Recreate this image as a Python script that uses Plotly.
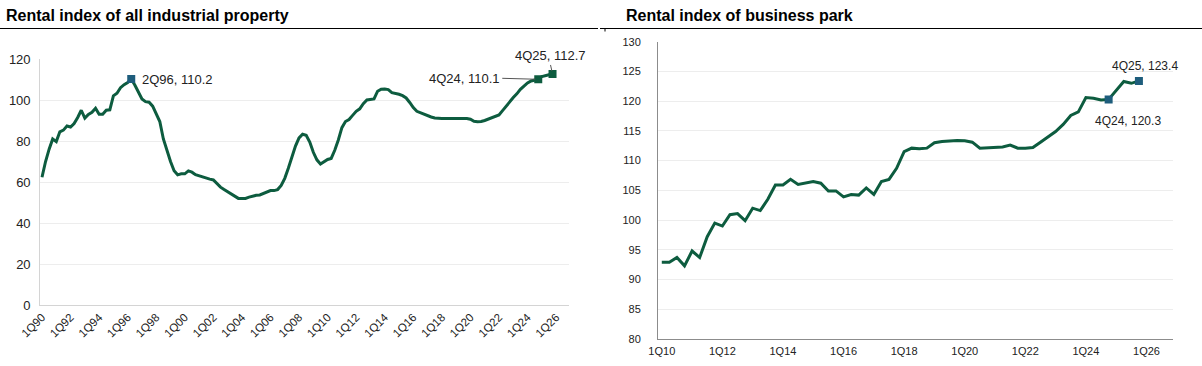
import plotly.graph_objects as go

# ---------------- data ----------------
ind_start_year = 1990
industrial = [
    62.3, 70, 76, 81, 79.7, 84.5, 85.3, 87.3, 86.8, 88.5, 91.5, 95, 91.2, 93, 94, 96,
    93, 93, 95, 95.2, 102, 103.3, 106, 107.5, 108.5, 110.2, 107.3, 104, 100.5, 99.2, 98.9, 97,
    93, 89.5, 81, 75, 70, 65.5, 63.5, 64, 64, 65.4, 64.8, 63.6, 63, 62.6, 62, 61.4,
    61, 59, 57.5, 56.3, 55.2, 54, 53, 52, 52, 52, 52.6, 53.2, 53.5, 53.7, 54.5, 55.4,
    55.8, 55.8, 56.3, 58.3, 61.8, 66.7, 72.6, 77.5, 81.5, 83.3, 82.8, 79.5, 74.5, 70.8, 68.8, 70,
    71, 71.5, 75.5, 80.5, 86.5, 89.5, 90.5, 92.5, 94.5, 95.7, 98.2, 100, 100.3, 100.5, 104.3, 105.3,
    105.4, 105.1, 103.6, 103.3, 102.8, 102.1, 101, 98.8, 96.3, 94.5, 93.8, 92.9, 92.3, 91.7, 91.2, 91,
    91, 91, 91, 91, 91, 91, 91, 91, 90.6, 89.6, 89.4, 89.5, 90, 90.6, 91.2, 92,
    92.7, 94.8, 97, 99.5, 101.2, 103, 105.2, 106.8, 108.3, 109.3, 109.8, 110.1, 111.4, 112, 112.3, 112.7,
]

bp_start_year = 2010
business_park = [
    92.9, 92.9, 93.7, 92.3, 94.8, 93.7, 97.2, 99.5, 99, 100.9, 101.1, 99.9, 102, 101.6, 103.5, 105.9,
    105.9, 106.85, 106, 106.2, 106.5, 106.2, 104.9, 104.9, 103.9, 104.3, 104.2, 105.4, 104.3, 106.5, 106.85, 108.7,
    111.5, 112.1, 112, 112.1, 113, 113.2, 113.3, 113.4, 113.35, 113.1, 112.1, 112.2, 112.25, 112.3, 112.6, 112.1,
    112.1, 112.2, 113.1, 114, 114.9, 116.1, 117.6, 118.2, 120.6, 120.5, 120.2, 120.3, 121.9, 123.3, 123, 123.4,
]

ind_end_year = 2026   # axis runs through 4Q26
bp_end_year = 2026

ind_highlights = ["2Q96", "4Q24", "4Q25"]
bp_highlights = ["4Q24", "4Q25"]

titles = ["Rental index of all industrial property", "Rental index of business park"]


def quarter_labels(start, end):
    return [f"{q}Q{str(y)[2:]}" for y in range(start, end + 1) for q in range(1, 5)]


ind_cats = quarter_labels(ind_start_year, ind_end_year)
bp_cats = quarter_labels(bp_start_year, bp_end_year)

ind_x = list(range(len(industrial)))
bp_x = list(range(len(business_park)))

ind_ticks = [i for i, c in enumerate(ind_cats) if c.startswith("1Q") and int(c[2:]) % 2 == 0]
bp_ticks = [i for i, c in enumerate(bp_cats) if c.startswith("1Q") and int(c[2:]) % 2 == 0]

# ---------------- styling ----------------
W, H = 1202, 366
LINE = "#0d5c3f"
BLUE = "#1e5d7c"
FONT = "Liberation Sans, Arial, sans-serif"


def px_x(a, b):
    return [a / W, b / W]


def px_y(top, bottom):
    return [1 - bottom / H, 1 - top / H]


fig = go.Figure()

fig.add_trace(go.Scatter(x=ind_x, y=industrial, mode="lines", line=dict(color=LINE, width=3),
                         xaxis="x", yaxis="y", hoverinfo="skip", showlegend=False))
fig.add_trace(go.Scatter(x=bp_x, y=business_park, mode="lines", line=dict(color=LINE, width=3),
                         xaxis="x2", yaxis="y2", hoverinfo="skip", showlegend=False))

# highlight markers
ind_hi_idx = [ind_cats.index(c) for c in ind_highlights]
ind_hi_col = [BLUE, LINE, LINE]
fig.add_trace(go.Scatter(x=ind_hi_idx, y=[industrial[i] for i in ind_hi_idx], mode="markers",
                         marker=dict(symbol="square", size=8, color=ind_hi_col),
                         xaxis="x", yaxis="y", hoverinfo="skip", showlegend=False))
bp_hi_idx = [bp_cats.index(c) for c in bp_highlights]
fig.add_trace(go.Scatter(x=bp_hi_idx, y=[business_park[i] for i in bp_hi_idx], mode="markers",
                         marker=dict(symbol="square", size=8, color=BLUE),
                         xaxis="x2", yaxis="y2", hoverinfo="skip", showlegend=False))

fig.update_layout(
    template="none",
    width=W, height=H,
    margin=dict(l=0, r=0, t=0, b=0, autoexpand=False),
    paper_bgcolor="white", plot_bgcolor="white",
    font=dict(family=FONT, color="#222"),
    xaxis=dict(domain=px_x(40.2, 568.6), range=[-0.5, len(ind_cats) - 0.5],
               tickvals=ind_ticks, ticktext=[ind_cats[i] for i in ind_ticks],
               tickangle=-45, tickfont=dict(family=FONT, size=11.5, color="#222"),
               showgrid=False, showline=True, linecolor="#d4d4d4", linewidth=1,
               ticks="", zeroline=False, automargin=False, anchor="y"),
    yaxis=dict(domain=px_y(59, 305), range=[0, 120], dtick=20,
               tickfont=dict(family=FONT, size=13, color="#222"),
               showgrid=True, gridcolor="#ededed", gridwidth=1,
               showline=True, linecolor="#d4d4d4", linewidth=1,
               ticks="", zeroline=False, ticklabelstandoff=6, automargin=False, anchor="x"),
    xaxis2=dict(domain=px_x(658, 1173), range=[-0.5, len(bp_cats) - 0.5],
                tickvals=bp_ticks, ticktext=[bp_cats[i] for i in bp_ticks],
                tickangle=0, tickfont=dict(family=FONT, size=11, color="#222"),
                showgrid=False, showline=True, linecolor="#8c8c8c", linewidth=1,
                ticks="", zeroline=False, automargin=False, anchor="y2", ticklabelstandoff=2),
    yaxis2=dict(domain=px_y(41.7, 339), range=[80, 130], dtick=5,
                tickfont=dict(family=FONT, size=11, color="#222"),
                showgrid=True, gridcolor="#ededed", gridwidth=1,
                showline=True, linecolor="#8c8c8c", linewidth=1,
                ticks="", zeroline=False, ticklabelstandoff=14, automargin=False, anchor="x2"),
)

# titles
fig.add_annotation(text=f"<b>{titles[0]}</b>", xref="paper", yref="paper",
                   x=4 / W, y=1 - 15 / H, xanchor="left", yanchor="middle", showarrow=False,
                   font=dict(family=FONT, size=16, color="#000"))
fig.add_annotation(text=f"<b>{titles[1]}</b>", xref="paper", yref="paper",
                   x=624 / W, y=1 - 15 / H, xanchor="left", yanchor="middle", showarrow=False,
                   font=dict(family=FONT, size=16, color="#000"))

# title rules
fig.add_shape(type="line", xref="paper", yref="paper", x0=0, x1=598 / W,
              y0=1 - 28.5 / H, y1=1 - 28.5 / H, line=dict(color="#000", width=1.2))
fig.add_shape(type="line", xref="paper", yref="paper", x0=600 / W, x1=1,
              y0=1 - 28.5 / H, y1=1 - 28.5 / H, line=dict(color="#000", width=1.2))
fig.add_shape(type="line", xref="paper", yref="paper", x0=605 / W, x1=605 / W,
              y0=1 - 28.5 / H, y1=1 - 31.5 / H, line=dict(color="#000", width=1))

lab_font = dict(family=FONT, size=13, color="#222")

# left annotations
i = ind_cats.index("2Q96")
fig.add_annotation(x=i, y=industrial[i], xref="x", yref="y", text=f"2Q96, {industrial[i]}",
                   showarrow=False, xanchor="left", yanchor="middle", xshift=9, font=lab_font)
i = ind_cats.index("4Q24")
fig.add_annotation(x=i, y=industrial[i], xref="x", yref="y", text=f"4Q24, {industrial[i]}",
                   showarrow=True, arrowhead=0, arrowwidth=1, arrowcolor="#555",
                   ax=-36, ay=-1, xanchor="right", yanchor="middle", font=lab_font,
                   standoff=3)
i = ind_cats.index("4Q25")
fig.add_annotation(x=i, y=industrial[i], xref="x", yref="y", text=f"4Q25, {industrial[i]}",
                   showarrow=True, arrowhead=0, arrowwidth=1, arrowcolor="#555",
                   ax=-2, ay=-9, xanchor="center", yanchor="bottom", font=lab_font,
                   standoff=3)

# right annotations
i = bp_cats.index("4Q25")
fig.add_annotation(x=i, y=business_park[i], xref="x2", yref="y2", text=f"4Q25, {business_park[i]}",
                   showarrow=False, xanchor="center", yanchor="bottom", xshift=6, yshift=6,
                   font=dict(family=FONT, size=12, color="#222"))
i = bp_cats.index("4Q24")
fig.add_annotation(x=i, y=business_park[i], xref="x2", yref="y2", text=f"4Q24, {business_park[i]}",
                   showarrow=False, xanchor="center", yanchor="top", xshift=19, yshift=-13,
                   font=dict(family=FONT, size=12, color="#222"))

fig.write_html("out.html", config={"displayModeBar": False},
               post_script="document.body.style.margin='0';")
